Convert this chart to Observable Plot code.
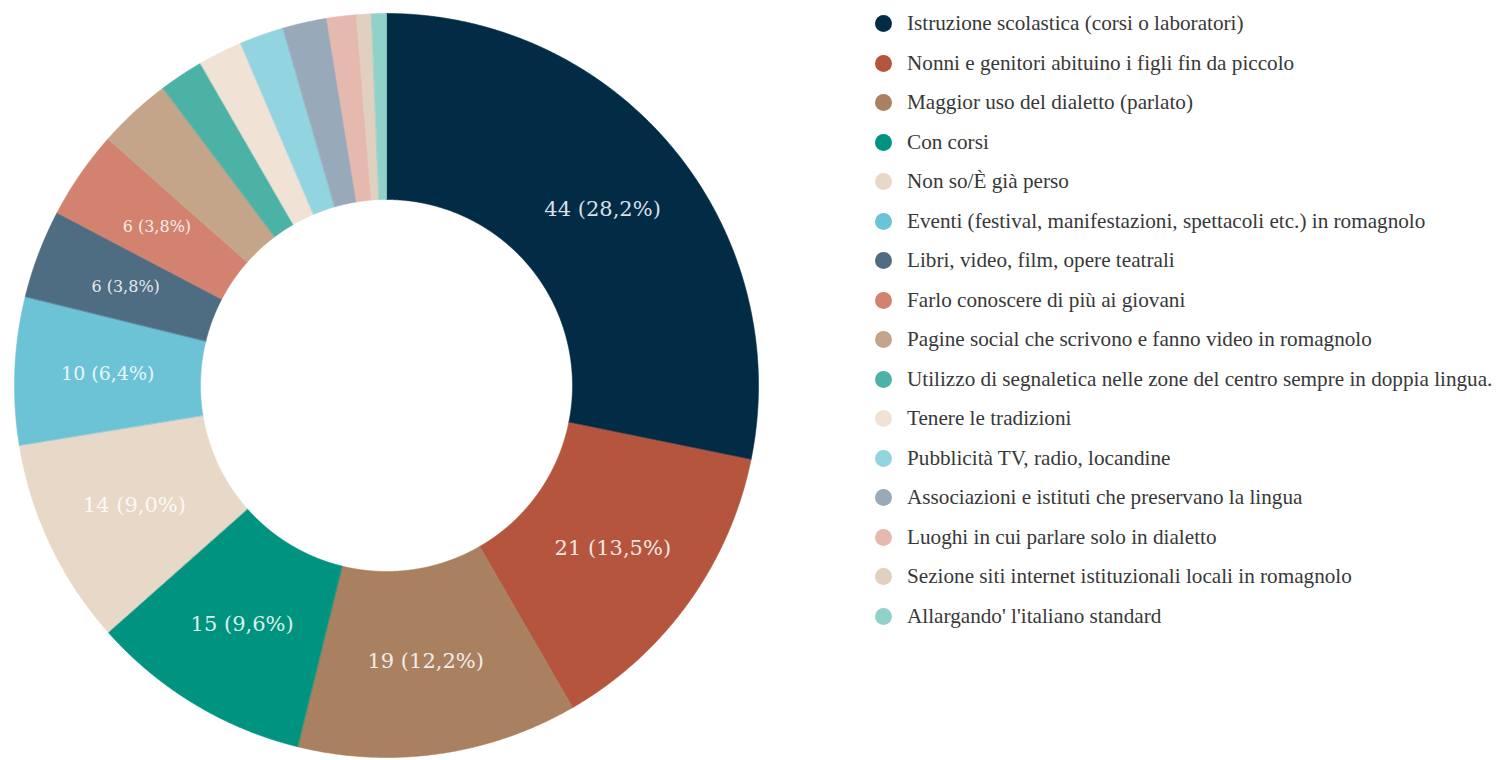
<!DOCTYPE html>
<html>
<head>
<meta charset="utf-8">
<script src="https://cdn.jsdelivr.net/npm/d3@7"></script>
<script src="https://cdn.jsdelivr.net/npm/@observablehq/plot@0.6"></script>
<style>
  html, body { margin: 0; padding: 0; background: #fff; }
  #wrap { position: relative; width: 1508px; height: 760px; overflow: hidden; }
  #chart { position: absolute; left: 0; top: 0; }
  #legend { position: absolute; left: 875px; top: 4px; }
  .row { height: 39.5px; display: flex; align-items: center; white-space: nowrap; }
  .sw { width: 17px; height: 17px; border-radius: 50%; flex: none; }
  .lab { margin-left: 15px; font-family: "Liberation Serif", serif; font-size: 21.2px; color: #383838; }
</style>
</head>
<body>
<div id="wrap">
  <div id="chart"></div>
  <div id="legend"></div>
</div>
<script>
const categories = [
  "Istruzione scolastica (corsi o laboratori)",
  "Nonni e genitori abituino i figli fin da piccolo",
  "Maggior uso del dialetto (parlato)",
  "Con corsi",
  "Non so/È già perso",
  "Eventi (festival, manifestazioni, spettacoli etc.) in romagnolo",
  "Libri, video, film, opere teatrali",
  "Farlo conoscere di più ai giovani",
  "Pagine social che scrivono e fanno video in romagnolo",
  "Utilizzo di segnaletica nelle zone del centro sempre in doppia lingua.",
  "Tenere le tradizioni",
  "Pubblicità TV, radio, locandine",
  "Associazioni e istituti che preservano la lingua",
  "Luoghi in  cui parlare solo in dialetto",
  "Sezione siti internet istituzionali locali in romagnolo",
  "Allargando' l'italiano standard"
];
const values = [44, 21, 19, 15, 14, 10, 6, 6, 5, 3, 3, 3, 3, 2, 1, 1];
const colors = [
  "#022c46", "#b5553d", "#a98060", "#00937f", "#e8d8c7", "#6cc3d5",
  "#4e6c82", "#d3826f", "#c4a58a", "#4cb2a5", "#f0e3d6", "#93d4e1",
  "#98aab9", "#e6b9ae", "#e1cfc0", "#90d2c9"
];

const total = d3.sum(values);
const arcs = d3.pie().sort(null).value(d => d)(values);
const R_OUT = 1, R_IN = 0.5;

// ring slices as closed polygons in polar -> cartesian data space
const ring = [];
arcs.forEach((a, i) => {
  const n = Math.max(2, Math.ceil((a.endAngle - a.startAngle) / 0.004));
  for (let k = 0; k <= n; k++) {
    const t = a.startAngle + (a.endAngle - a.startAngle) * k / n;
    ring.push({cat: categories[i], x: R_OUT * Math.sin(t), y: R_OUT * Math.cos(t)});
  }
  for (let k = n; k >= 0; k--) {
    const t = a.startAngle + (a.endAngle - a.startAngle) * k / n;
    ring.push({cat: categories[i], x: R_IN * Math.sin(t), y: R_IN * Math.cos(t)});
  }
});

const labels = arcs
  .map((a, i) => {
    const mid = (a.startAngle + a.endAngle) / 2;
    const rm = (R_OUT + R_IN) / 2;
    const v = values[i];
    return {
      cat: categories[i], value: v,
      x: rm * Math.sin(mid), y: rm * Math.cos(mid),
      text: `${v} (${(v / total * 100).toFixed(1).replace(".", ",")}%)`,
      color: d3.interpolateRgb(colors[i], "#ffffff")(0.85)
    };
  })
  .filter(d => d.value >= 6);

const plot = Plot.plot({
  width: 772,
  height: 760,
  marginLeft: 14, marginRight: 14, marginTop: 13, marginBottom: 3,
  x: {domain: [-1, 1], axis: null},
  y: {domain: [-1, 1], axis: null},
  color: {domain: categories, range: colors},
  style: {fontFamily: "DejaVu Serif", background: "#fff"},
  marks: [
    Plot.line(ring, {x: "x", y: "y", z: "cat", fill: "cat", stroke: "cat", strokeWidth: 0.6, curve: "linear-closed"}),
    Plot.text(labels, {
      x: "x", y: "y", text: "text", fill: d => d.color,
      fontSize: d => d.value >= 14 ? 21 : d.value >= 10 ? 19 : 16,
      textAnchor: "middle", lineAnchor: "middle"
    })
  ]
});
document.getElementById("chart").appendChild(plot);

const legend = document.getElementById("legend");
categories.forEach((c, i) => {
  const row = document.createElement("div");
  row.className = "row";
  const sw = document.createElement("span");
  sw.className = "sw";
  sw.style.background = colors[i];
  const lab = document.createElement("span");
  lab.className = "lab";
  lab.textContent = c;
  row.appendChild(sw);
  row.appendChild(lab);
  legend.appendChild(row);
});
</script>
</body>
</html>
